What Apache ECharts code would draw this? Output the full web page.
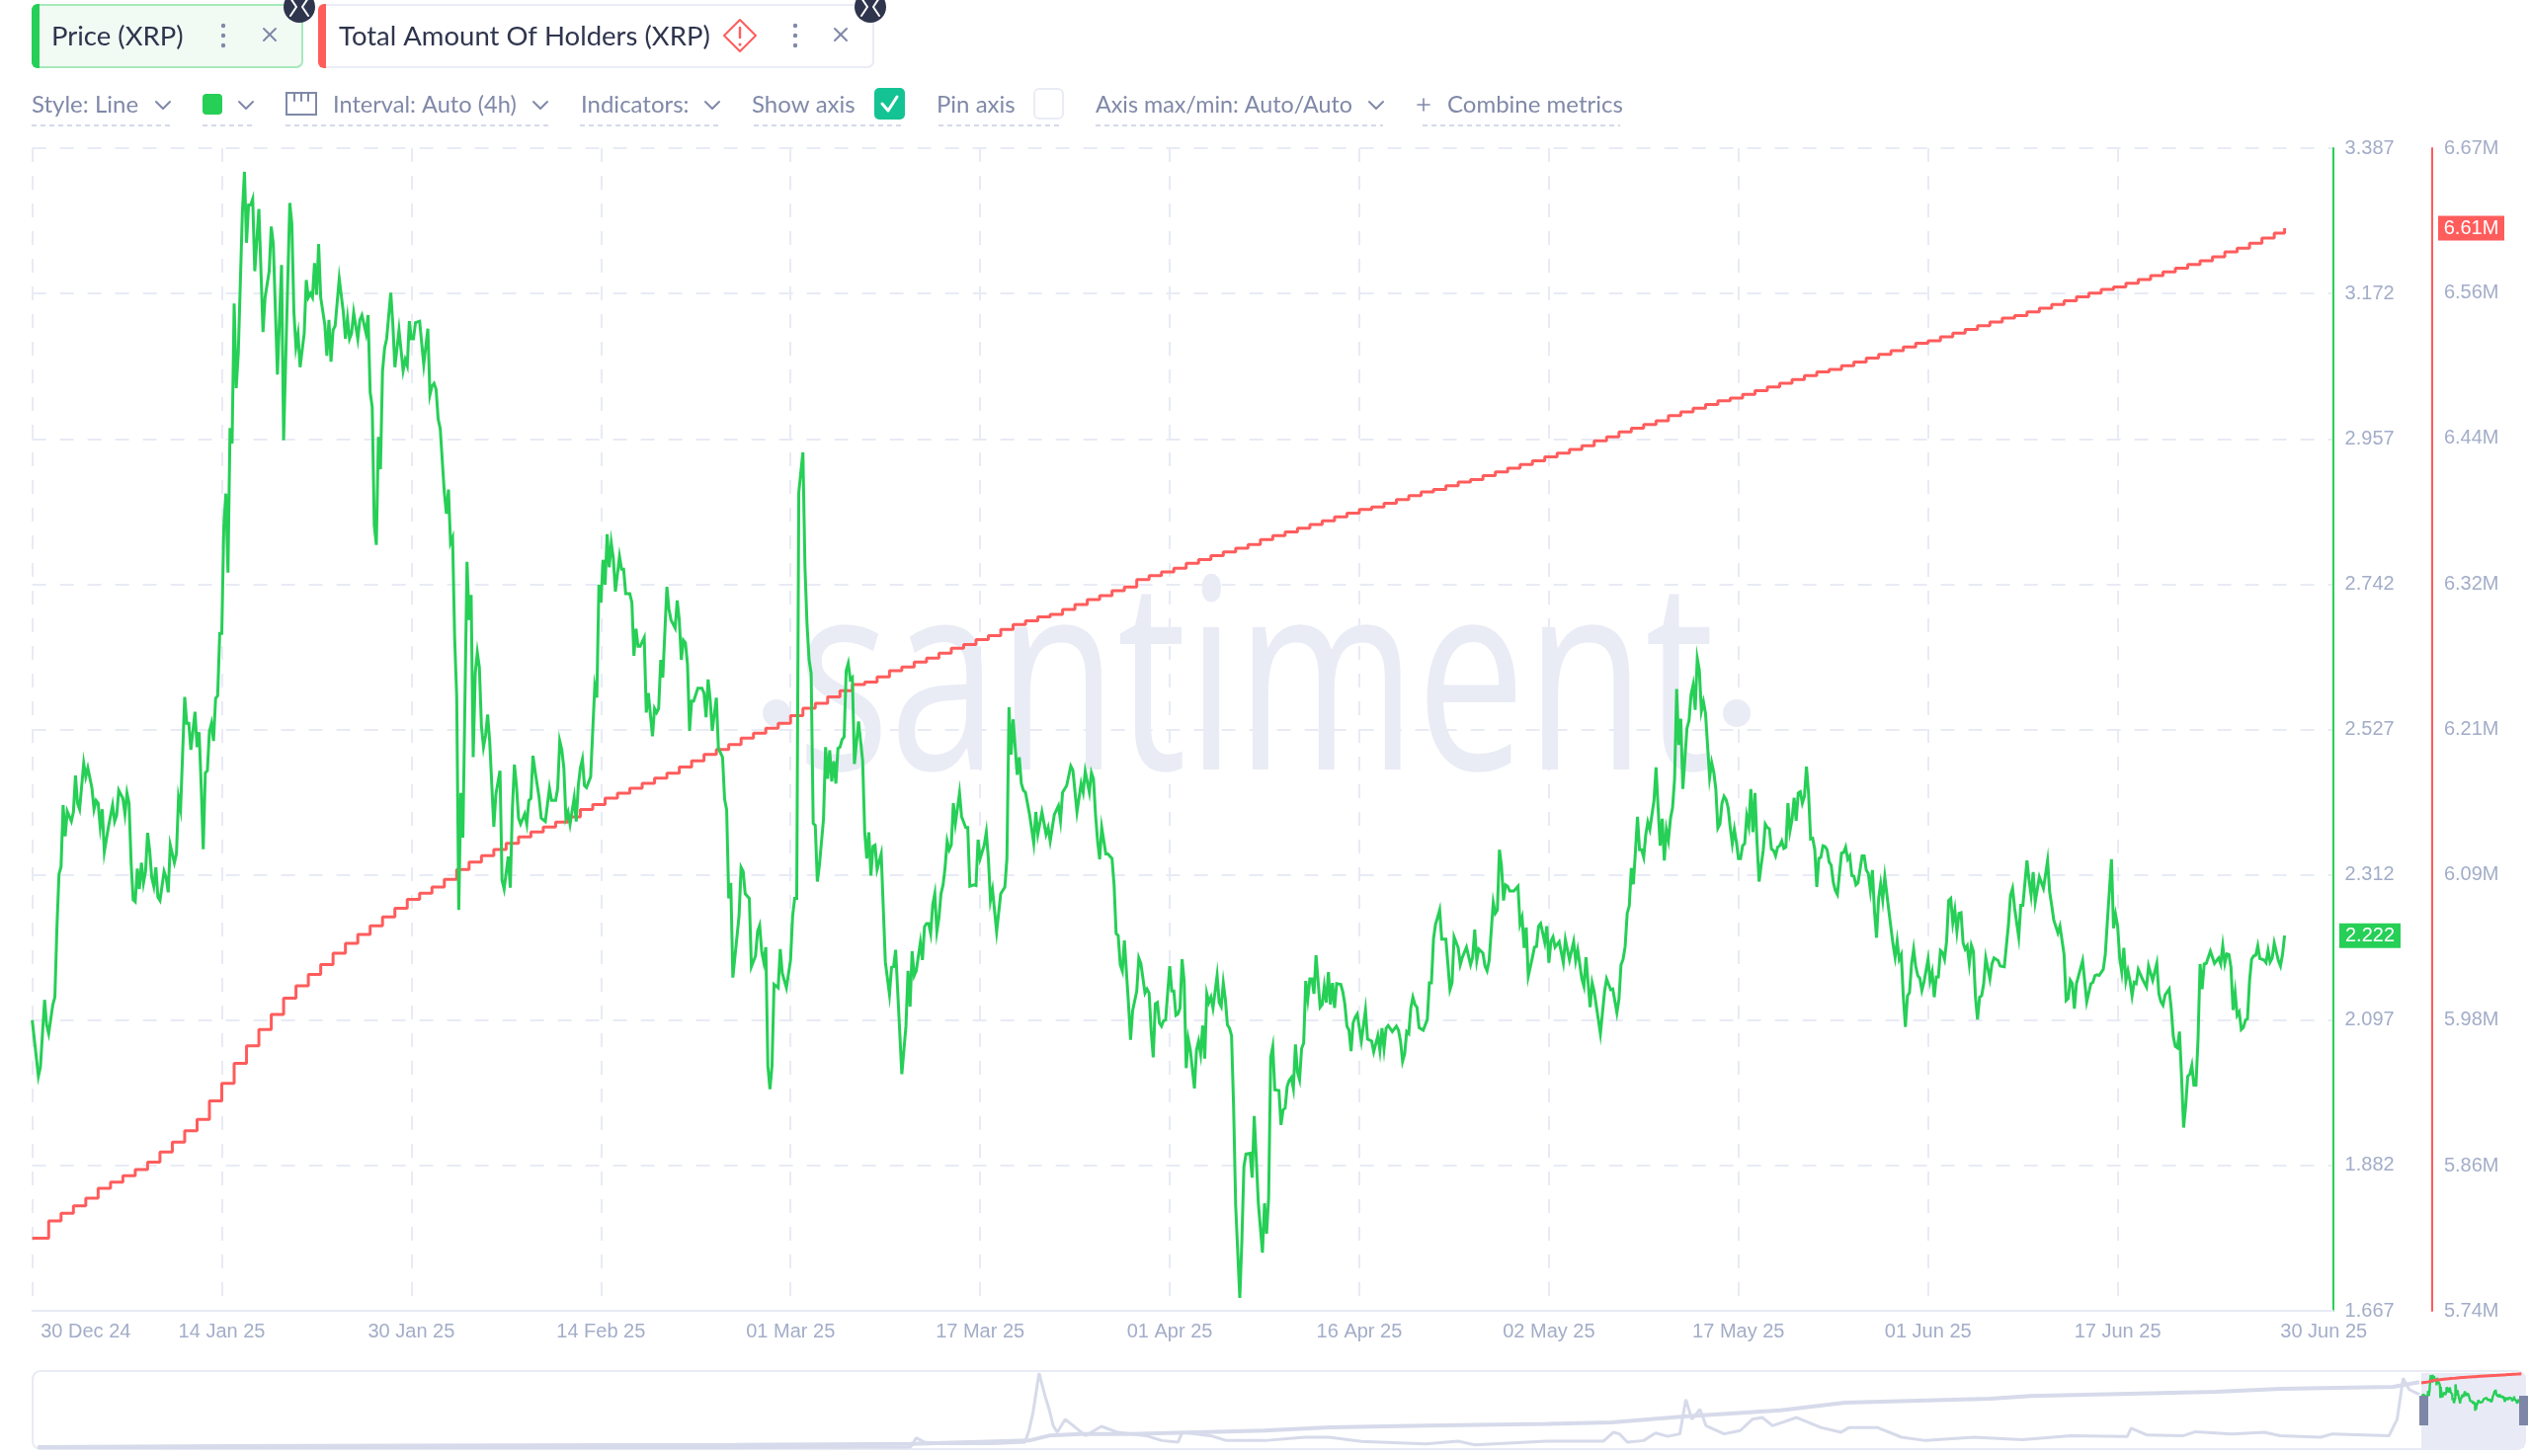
<!DOCTYPE html>
<html><head><meta charset="utf-8"><title>XRP price and holders</title>
<style>html,body{margin:0;padding:0;background:#fff}#c{width:2560px;height:1474px}</style>
<script src="https://cdn.jsdelivr.net/npm/echarts@6/dist/echarts.min.js"></script></head>
<body><div id="c"></div>
<script>
// x unit: 4-hour steps counted from the start of the window
const tickSteps=[0,92,184,276,368,460,552,644,736,828,920,1012];
const dateLabels=["30 Dec 24","14 Jan 25","30 Jan 25","14 Feb 25","01 Mar 25","17 Mar 25","01 Apr 25","16 Apr 25","02 May 25","17 May 25","01 Jun 25","17 Jun 25","30 Jun 25"];
const labelSteps=[26,92,184,276,368,460,552,644,736,828,920,1012,1112];
const priceTicks=[1.667,1.882,2.097,2.312,2.527,2.742,2.957,3.172,3.387];
const holderTicks=[5.74,5.856,5.973,6.089,6.205,6.321,6.438,6.554,6.67];
const holderTickLabels=["5.74M","5.86M","5.98M","6.09M","6.21M","6.32M","6.44M","6.56M","6.67M"];
const priceSeries=[[0,2.097],[2,2.042],[3,2.014],[4,2.028],[6,2.127],[7,2.090],[8,2.077],[10,2.120],[11,2.131],[12,2.234],[13,2.313],[14,2.324],[15,2.415],[16,2.369],[17,2.406],[19,2.391],[20,2.405],[21,2.459],[22,2.418],[23,2.409],[25,2.477],[26,2.457],[27,2.470],[29,2.440],[30,2.409],[31,2.422],[32,2.418],[33,2.383],[34,2.409],[35,2.346],[37,2.383],[39,2.415],[40,2.391],[41,2.400],[42,2.437],[44,2.425],[45,2.402],[46,2.433],[47,2.418],[48,2.330],[49,2.275],[50,2.272],[51,2.321],[52,2.291],[53,2.330],[54,2.300],[55,2.317],[56,2.374],[57,2.348],[58,2.308],[59,2.295],[60,2.323],[61,2.279],[62,2.274],[64,2.317],[65,2.308],[66,2.286],[67,2.356],[69,2.330],[70,2.343],[71,2.426],[72,2.409],[74,2.575],[75,2.536],[76,2.536],[77,2.497],[79,2.553],[80,2.501],[81,2.523],[82,2.444],[83,2.350],[84,2.463],[85,2.466],[86,2.524],[87,2.536],[88,2.510],[89,2.573],[90,2.577],[91,2.669],[92,2.669],[93,2.829],[94,2.876],[95,2.759],[96,2.973],[97,2.950],[98,3.157],[99,3.032],[100,3.083],[102,3.293],[103,3.352],[104,3.247],[105,3.303],[106,3.303],[107,3.312],[108,3.205],[110,3.297],[112,3.115],[113,3.166],[115,3.205],[116,3.271],[117,3.245],[119,3.052],[121,3.214],[122,2.955],[125,3.306],[126,3.275],[127,3.144],[128,3.093],[129,3.112],[130,3.063],[132,3.113],[133,3.192],[134,3.166],[135,3.172],[136,3.166],[137,3.217],[138,3.170],[139,3.245],[140,3.166],[142,3.126],[143,3.080],[144,3.133],[145,3.071],[146,3.118],[147,3.124],[149,3.194],[151,3.144],[152,3.105],[153,3.135],[154,3.105],[155,3.113],[156,3.144],[158,3.105],[159,3.133],[160,3.140],[162,3.113],[163,3.140],[164,3.026],[165,3.004],[166,2.829],[167,2.800],[168,2.960],[169,2.912],[170,3.057],[171,3.091],[172,3.105],[174,3.173],[175,3.127],[176,3.063],[178,3.118],[180,3.058],[181,3.074],[182,3.065],[183,3.131],[184,3.105],[185,3.105],[186,3.129],[188,3.131],[190,3.067],[192,3.120],[193,3.022],[194,3.035],[195,3.039],[196,3.030],[197,2.986],[198,2.972],[200,2.877],[201,2.846],[202,2.882],[203,2.803],[204,2.811],[205,2.663],[206,2.575],[207,2.260],[208,2.433],[209,2.367],[211,2.775],[212,2.689],[213,2.726],[214,2.486],[215,2.610],[216,2.641],[217,2.619],[218,2.532],[219,2.501],[220,2.518],[221,2.549],[222,2.510],[224,2.383],[225,2.431],[227,2.466],[228,2.304],[229,2.291],[231,2.339],[232,2.293],[233,2.409],[234,2.475],[235,2.444],[236,2.396],[237,2.387],[239,2.402],[240,2.387],[241,2.422],[242,2.425],[243,2.488],[244,2.466],[246,2.426],[247,2.396],[249,2.391],[251,2.440],[252,2.422],[254,2.422],[255,2.440],[256,2.510],[257,2.497],[258,2.470],[259,2.396],[260,2.405],[261,2.387],[263,2.426],[264,2.391],[265,2.444],[266,2.470],[267,2.483],[268,2.444],[269,2.441],[271,2.457],
[272,2.525],[273,2.591],[274,2.574],[275,2.741],[276,2.715],[277,2.778],[278,2.741],[279,2.816],[280,2.767],[281,2.803],[282,2.780],[283,2.731],[285,2.783],[286,2.764],[287,2.764],[288,2.728],[290,2.728],[291,2.715],[292,2.636],[293,2.676],[294,2.650],[295,2.650],[297,2.663],[298,2.552],[299,2.581],[301,2.517],[302,2.558],[303,2.552],[304,2.558],[305,2.630],[306,2.604],[308,2.738],[309,2.705],[310,2.689],[312,2.677],[313,2.718],[314,2.689],[315,2.630],[316,2.659],[317,2.655],[318,2.623],[319,2.525],[320,2.569],[321,2.569],[323,2.588],[325,2.588],[326,2.581],[327,2.545],[328,2.601],[329,2.571],[330,2.525],[332,2.574],[333,2.499],[335,2.486],[336,2.424],[337,2.408],[338,2.277],[339,2.300],[340,2.160],[343,2.251],[344,2.323],[345,2.317],[346,2.284],[348,2.277],[349,2.176],[351,2.192],[352,2.228],[353,2.237],[354,2.199],[355,2.183],[356,2.205],[357,2.029],[358,1.995],[359,2.029],[360,2.150],[362,2.145],[363,2.202],[364,2.166],[366,2.145],[368,2.186],[369,2.251],[370,2.277],[371,2.277],[372,2.878],[374,2.937],[375,2.767],[376,2.682],[377,2.630],[378,2.610],[379,2.388],[380,2.385],[381,2.302],[382,2.326],[384,2.395],[385,2.501],[386,2.454],[387,2.496],[388,2.450],[389,2.480],[390,2.447],[391,2.499],[392,2.501],[393,2.512],[394,2.516],[395,2.614],[396,2.625],[397,2.601],[398,2.604],[399,2.476],[401,2.539],[403,2.480],[404,2.375],[405,2.336],[406,2.375],[407,2.311],[408,2.354],[409,2.356],[410,2.320],[412,2.343],[414,2.183],[416,2.135],[417,2.175],[418,2.176],[419,2.201],[422,2.017],[424,2.088],[425,2.170],[426,2.117],[427,2.199],[428,2.163],[429,2.170],[431,2.212],[432,2.186],[433,2.235],[434,2.240],[435,2.240],[436,2.225],[437,2.268],[438,2.284],[439,2.228],[440,2.248],[441,2.284],[442,2.297],[443,2.323],[444,2.362],[445,2.349],[446,2.356],[447,2.418],[448,2.388],[450,2.433],[451,2.398],[453,2.382],[454,2.382],[455,2.295],[457,2.297],[458,2.296],[459,2.364],[460,2.336],[462,2.356],[463,2.375],[464,2.336],[465,2.274],[466,2.290],[468,2.228],[470,2.284],[472,2.294],[473,2.336],[474,2.560],[475,2.490],[476,2.542],[478,2.460],[479,2.486],[480,2.447],[481,2.437],[482,2.434],[484,2.401],[486,2.359],[487,2.405],[488,2.372],[490,2.405],[492,2.372],[493,2.382],[494,2.362],[496,2.401],[498,2.414],[499,2.392],[500,2.434],[502,2.444],[504,2.473],[505,2.467],[507,2.405],[509,2.447],[510,2.434],[511,2.465],[513,2.434],[514,2.463],[515,2.454],[516,2.401],[517,2.362],[518,2.335],[519,2.382],[521,2.343],[522,2.343],[524,2.336],[525,2.297],[526,2.225],[527,2.222],[528,2.179],[529,2.170],[530,2.215],[532,2.121],[533,2.068],[534,2.111],[536,2.140],[537,2.189],[538,2.181],[540,2.137],[541,2.143],[542,2.137],[543,2.081],[544,2.042],[545,2.121],
[546,2.123],[547,2.093],[548,2.088],[549,2.096],[550,2.097],[552,2.177],[553,2.140],[554,2.140],[555,2.104],[556,2.106],[557,2.115],[558,2.187],[559,2.155],[560,2.026],[561,2.069],[562,2.053],[564,1.996],[565,2.053],[566,2.066],[567,2.047],[568,2.089],[569,2.040],[570,2.136],[571,2.123],[572,2.131],[573,2.115],[575,2.163],[576,2.123],[577,2.117],[578,2.152],[579,2.128],[580,2.090],[581,2.085],[582,2.074],[583,1.969],[584,1.823],[586,1.686],[587,1.769],[588,1.880],[589,1.899],[591,1.900],[592,1.864],[593,1.955],[594,1.893],[595,1.826],[597,1.753],[598,1.826],[599,1.781],[600,1.834],[601,2.042],[602,2.058],[603,1.994],[605,1.993],[606,1.942],[607,1.964],[608,1.967],[609,1.999],[610,2.008],[611,2.012],[612,1.996],[613,2.061],[614,2.020],[615,2.009],[616,2.055],[617,2.063],[618,2.155],[619,2.128],[620,2.158],[621,2.158],[622,2.136],[623,2.193],[625,2.116],[626,2.120],[627,2.147],[628,2.123],[629,2.168],[630,2.120],[631,2.152],[632,2.115],[633,2.151],[635,2.150],[636,2.139],[637,2.120],[638,2.088],[639,2.082],[640,2.051],[641,2.093],[642,2.101],[643,2.106],[645,2.066],[647,2.112],[648,2.069],[650,2.066],[651,2.050],[653,2.074],[654,2.052],[655,2.085],[656,2.055],[657,2.085],[658,2.089],[660,2.080],[662,2.088],[663,2.082],[664,2.066],[665,2.036],[666,2.047],[667,2.080],[668,2.077],[669,2.115],[670,2.131],[671,2.120],[672,2.116],[673,2.086],[675,2.082],[677,2.098],[678,2.152],[679,2.152],[680,2.217],[681,2.239],[682,2.249],[683,2.260],[684,2.217],[686,2.217],[688,2.142],[689,2.152],[690,2.220],[692,2.204],[693,2.179],[694,2.190],[696,2.205],[698,2.179],[699,2.190],[700,2.231],[701,2.185],[702,2.202],[704,2.196],[705,2.177],[706,2.170],[707,2.185],[709,2.271],[710,2.255],[711,2.260],[712,2.349],[713,2.325],[714,2.274],[715,2.297],[716,2.295],[717,2.288],[719,2.288],[721,2.295],[722,2.239],[723,2.249],[724,2.204],[725,2.234],[726,2.162],[728,2.190],[729,2.205],[730,2.206],[731,2.236],[732,2.240],[734,2.212],[735,2.236],[736,2.182],[737,2.214],[738,2.220],[739,2.205],[741,2.213],[743,2.182],[744,2.216],[746,2.186],[748,2.213],[749,2.185],[750,2.201],[752,2.158],[753,2.147],[754,2.190],[756,2.116],[757,2.152],[758,2.139],[761,2.077],[763,2.139],[764,2.158],[766,2.142],[767,2.143],[769,2.108],[770,2.128],[771,2.179],[772,2.187],[773,2.206],[774,2.255],[775,2.266],[776,2.322],[777,2.298],[778,2.347],[779,2.398],[780,2.349],[781,2.349],[782,2.338],[783,2.371],[784,2.390],[785,2.379],[787,2.422],[788,2.471],[789,2.411],[790,2.355],[791,2.395],[792,2.333],[793,2.379],[794,2.363],[795,2.395],[796,2.411],[797,2.454],
[798,2.587],[799,2.504],[800,2.543],[801,2.439],[803,2.529],[804,2.540],[805,2.579],[806,2.593],[807,2.556],[808,2.632],[809,2.615],[810,2.554],[811,2.568],[812,2.551],[814,2.456],[815,2.478],[816,2.464],[817,2.439],[818,2.381],[819,2.387],[820,2.418],[821,2.428],[822,2.423],[823,2.411],[824,2.382],[825,2.358],[826,2.379],[827,2.360],[828,2.336],[829,2.336],[830,2.355],[831,2.358],[832,2.399],[833,2.384],[834,2.439],[835,2.375],[836,2.433],[837,2.360],[838,2.302],[839,2.326],[840,2.348],[841,2.387],[842,2.382],[843,2.380],[844,2.350],[845,2.348],[846,2.340],[847,2.353],[848,2.355],[849,2.362],[850,2.351],[851,2.353],[852,2.418],[853,2.377],[854,2.394],[855,2.426],[856,2.392],[857,2.433],[858,2.435],[859,2.418],[860,2.428],[861,2.472],[862,2.433],[863,2.365],[864,2.366],[865,2.350],[866,2.294],[867,2.336],[868,2.338],[869,2.355],[870,2.354],[871,2.349],[872,2.331],[873,2.326],[874,2.301],[875,2.289],[876,2.283],[878,2.344],[879,2.345],[880,2.353],[881,2.335],[882,2.340],[883,2.311],[884,2.310],[885,2.297],[886,2.300],[888,2.340],[889,2.340],[890,2.319],[891,2.314],[892,2.289],[893,2.319],[894,2.258],[895,2.219],[896,2.277],[897,2.299],[898,2.275],[899,2.309],[901,2.258],[903,2.209],[904,2.190],[905,2.214],[906,2.187],[907,2.194],[908,2.131],[909,2.087],[910,2.133],[911,2.138],[912,2.180],[913,2.202],[914,2.177],[915,2.163],[916,2.159],[917,2.141],[918,2.153],[920,2.187],[921,2.155],[922,2.168],[923,2.131],[924,2.161],[925,2.161],[926,2.200],[927,2.197],[928,2.187],[929,2.214],[930,2.274],[931,2.277],[932,2.241],[933,2.260],[934,2.228],[935,2.255],[936,2.256],[937,2.211],[938,2.202],[939,2.207],[940,2.180],[941,2.208],[942,2.199],[943,2.131],[944,2.098],[945,2.131],[946,2.133],[947,2.151],[948,2.189],[950,2.158],[951,2.180],[952,2.189],[954,2.185],[955,2.177],[957,2.176],[959,2.238],[960,2.282],[961,2.292],[962,2.263],[963,2.241],[964,2.220],[965,2.267],[966,2.267],[968,2.333],[969,2.304],[970,2.282],[971,2.316],[972,2.272],[974,2.309],[976,2.292],[978,2.333],[979,2.287],[980,2.267],[981,2.245],[983,2.226],[984,2.236],[986,2.194],[987,2.126],[988,2.129],[989,2.156],[990,2.151],[991,2.114],[992,2.151],[995,2.185],[997,2.124],[999,2.151],[1000,2.153],[1001,2.163],[1002,2.164],[1003,2.163],[1005,2.172],[1006,2.194],[1007,2.243],[1009,2.335],[1010,2.233],[1011,2.253],[1012,2.236],[1013,2.189],[1014,2.168],[1015,2.204],[1016,2.155],[1017,2.170],[1018,2.155],[1019,2.133],[1020,2.153],[1021,2.151],[1022,2.172],[1024,2.158],[1026,2.146],[1027,2.177],[1029,2.156],[1031,2.181],[1032,2.136],[1033,2.124],[1034,2.119],[1035,2.134],[1037,2.143],[1038,2.114],[1039,2.073],[1040,2.058],[1041,2.056],[1042,2.080],[1043,2.014],[1044,1.938],[1045,1.970],[1046,2.014],[1047,2.017],[1048,2.030],[1049,2.001],[1050,2.001],[1051,2.068],[1052,2.180],[1053,2.143],[1054,2.180],[1055,2.181],[1057,2.199],[1059,2.181],[1061,2.189],[1062,2.180],[1063,2.207],[1064,2.181],[1065,2.195],[1066,2.194],[1067,2.175],[1068,2.112],[1069,2.138],[1070,2.104],[1071,2.109],[1072,2.083],[1073,2.086],[1074,2.097],[1075,2.099],[1076,2.155],[1077,2.187],[1078,2.192],[1079,2.193],[1080,2.207],[1081,2.188],[1083,2.186],[1084,2.182],[1085,2.200],[1086,2.183],[1087,2.189],[1088,2.211],[1090,2.185],[1091,2.177],[1092,2.194],[1093,2.222]];
// holders in millions, one reading per day
const holderSeries=[[0,5.798],[8,5.812],[14,5.818],[20,5.824],[26,5.830],[32,5.838],[38,5.843],[44,5.848],[50,5.853],[56,5.859],[62,5.867],[68,5.875],[74,5.884],[80,5.893],[86,5.908],[92,5.922],[98,5.938],[104,5.952],[110,5.965],[116,5.977],[122,5.990],[128,6.000],[134,6.009],[140,6.017],[146,6.026],[152,6.034],[158,6.041],[164,6.048],[170,6.055],[176,6.062],[182,6.069],[188,6.074],[194,6.079],[200,6.085],[206,6.093],[212,6.099],[218,6.104],[224,6.109],[230,6.114],[236,6.119],[242,6.123],[248,6.127],[254,6.131],[260,6.135],[266,6.141],[272,6.145],[278,6.150],[284,6.154],[290,6.158],[296,6.162],[302,6.166],[308,6.170],[314,6.175],[320,6.180],[326,6.185],[332,6.189],[338,6.193],[344,6.198],[350,6.202],[356,6.206],[362,6.210],[368,6.216],[374,6.222],[380,6.226],[386,6.231],[392,6.236],[398,6.241],[404,6.243],[410,6.247],[416,6.252],[422,6.255],[428,6.259],[434,6.262],[440,6.266],[446,6.270],[452,6.273],[458,6.277],[464,6.280],[470,6.285],[476,6.289],[482,6.292],[488,6.295],[494,6.297],[500,6.301],[506,6.305],[512,6.309],[518,6.312],[524,6.316],[530,6.319],[536,6.325],[542,6.328],[548,6.331],[554,6.334],[560,6.338],[566,6.341],[572,6.344],[578,6.347],[584,6.350],[590,6.353],[596,6.357],[602,6.360],[608,6.363],[614,6.366],[620,6.369],[626,6.372],[632,6.375],[638,6.378],[644,6.381],[650,6.383],[656,6.386],[662,6.389],[668,6.392],[674,6.395],[680,6.397],[686,6.400],[692,6.403],[698,6.405],[704,6.408],[710,6.411],[716,6.414],[722,6.417],[728,6.420],[734,6.423],[740,6.426],[746,6.429],[752,6.432],[758,6.436],[764,6.439],[770,6.443],[776,6.446],[782,6.449],[788,6.452],[794,6.456],[800,6.459],[806,6.462],[812,6.465],[818,6.468],[824,6.470],[830,6.473],[836,6.476],[842,6.479],[848,6.482],[854,6.485],[860,6.488],[866,6.491],[872,6.493],[878,6.496],[884,6.499],[890,6.502],[896,6.505],[902,6.508],[908,6.511],[914,6.514],[920,6.516],[926,6.519],[932,6.522],[938,6.525],[944,6.528],[950,6.531],[956,6.534],[962,6.536],[968,6.539],[974,6.542],[980,6.545],[986,6.548],[992,6.551],[998,6.554],[1004,6.557],[1010,6.559],[1016,6.562],[1022,6.565],[1028,6.568],[1034,6.571],[1040,6.574],[1046,6.577],[1052,6.580],[1058,6.583],[1064,6.587],[1070,6.590],[1076,6.594],[1082,6.598],[1088,6.602],[1093,6.606]];
// overview strip, whole history: [year, value]
const historyPrice=[[2013.16,0.01],[2014.12,0.02],[2014.97,0.02],[2016.62,0.02],[2017.49,0.05],[2017.50,0.15],[2017.52,0.46],[2017.56,0.27],[2017.65,0.20],[2017.90,0.20],[2018.06,0.27],[2018.08,0.79],[2018.10,1.60],[2018.13,3.38],[2018.16,2.34],[2018.18,1.75],[2018.20,1.01],[2018.22,0.71],[2018.26,1.30],[2018.30,1.01],[2018.36,0.56],[2018.44,0.98],[2018.52,0.71],[2018.66,0.56],[2018.74,0.34],[2018.82,0.27],[2018.84,0.71],[2018.98,0.56],[2019.06,0.34],[2019.25,0.34],[2019.45,0.49],[2019.57,0.49],[2019.73,0.30],[2020.05,0.19],[2020.21,0.31],[2020.29,0.15],[2020.65,0.31],[2020.93,0.31],[2020.98,0.71],[2021.01,0.64],[2021.05,0.27],[2021.13,0.34],[2021.19,0.68],[2021.25,0.53],[2021.31,0.64],[2021.34,2.19],[2021.37,1.30],[2021.41,1.75],[2021.44,1.01],[2021.53,0.64],[2021.61,0.79],[2021.67,1.30],[2021.72,1.38],[2021.77,1.01],[2021.89,1.38],[2022.01,0.93],[2022.11,0.71],[2022.15,0.93],[2022.29,0.93],[2022.41,0.49],[2022.53,0.34],[2022.77,0.49],[2023.01,0.38],[2023.25,0.56],[2023.53,0.52],[2023.55,0.90],[2023.63,0.59],[2023.81,0.56],[2023.87,0.74],[2024.05,0.64],[2024.21,0.71],[2024.29,0.56],[2024.49,0.49],[2024.55,0.64],[2024.83,0.56],[2024.87,1.30],[2024.90,3.16],[2024.93,2.64],[2024.98,2.42]];
const historyHolders=[[2013.16,0.09],[2014.12,0.18],[2014.97,0.23],[2016.62,0.29],[2017.49,0.38],[2018.08,0.67],[2018.18,1.11],[2018.34,1.26],[2018.58,1.26],[2019.25,1.55],[2019.57,1.84],[2020.05,1.99],[2020.65,2.14],[2020.97,2.28],[2021.33,2.81],[2021.81,3.36],[2022.13,4.04],[2022.85,4.39],[2023.05,4.62],[2023.97,5.00],[2024.29,5.27],[2024.85,5.44],[2024.98,5.85]];
const windowStartYear=2024.99, stepsPerYear=2190;
const GREEN='#26cf56',RED='#ff5c5c',AXT='#a3adc8',GRID='#e8ebf5',UI='#8089a8',DARK='#2f354d',MARK='#e9ecf5';
const chart=echarts.init(document.getElementById('c'),null,{renderer:'canvas',width:2560,height:1474,devicePixelRatio:1});
const tick={fontFamily:'Liberation Sans',fontSize:20,color:AXT};
const toMini=a=>a.map(p=>[windowStartYear+p[0]/stepsPerYear,p[1]]);
chart.setOption({
 animation:false,backgroundColor:'#fff',
 grid:[{left:32.6,top:150,width:2329,height:1177},{left:32,top:1390,width:2523,height:76}],
 xAxis:[
  {type:'value',gridIndex:0,min:0,max:1116.5,position:'bottom',
   axisLine:{show:true,onZero:false,lineStyle:{color:GRID,width:2}},
   axisTick:{show:false,customValues:tickSteps},
   splitLine:{show:true,lineStyle:{color:GRID,width:2,type:[14,14]}},
   axisLabel:{...tick,margin:11,customValues:labelSteps,formatter:v=>dateLabels[labelSteps.indexOf(v)]||'',showMinLabel:true,showMaxLabel:true,hideOverlap:false}},
  {type:'value',gridIndex:1,min:2013.13,max:2025.5,show:false}],
 yAxis:[
  {type:'value',gridIndex:0,position:'right',min:1.667,max:3.387,
   axisLine:{show:true,onZero:false,lineStyle:{color:GREEN,width:2}},axisTick:{show:false,customValues:priceTicks},
   splitLine:{show:true,lineStyle:{color:GRID,width:2,type:[14,14]}},
   axisLabel:{...tick,margin:12,customValues:priceTicks,formatter:v=>v.toFixed(3)}},
  {type:'value',gridIndex:0,position:'right',offset:100.3,min:5.74,max:6.67,
   axisLine:{show:true,onZero:false,lineStyle:{color:RED,width:2}},axisTick:{show:false,customValues:holderTicks},splitLine:{show:false},
   axisLabel:{...tick,margin:12,customValues:holderTicks,formatter:v=>holderTickLabels[holderTicks.indexOf(v)]||''}},
  {type:'value',gridIndex:1,min:0,max:3.387,show:false},
  {type:'value',gridIndex:1,min:0,max:6.67,show:false}],
 series:[
  {name:'Total Amount Of Holders (XRP)',type:'line',xAxisIndex:0,yAxisIndex:1,data:holderSeries,step:'end',showSymbol:false,z:3,lineStyle:{color:RED,width:3}},
  {name:'Price (XRP)',type:'line',xAxisIndex:0,yAxisIndex:0,data:priceSeries,showSymbol:false,z:4,lineStyle:{color:GREEN,width:3,join:'miter'}},
  {type:'line',xAxisIndex:1,yAxisIndex:2,data:historyPrice,showSymbol:false,z:2,lineStyle:{color:'#d6daea',width:3},
   markArea:{silent:true,itemStyle:{color:'#e8ebf5'},data:[[{xAxis:windowStartYear},{xAxis:2025.5}]]}},
  {type:'line',xAxisIndex:1,yAxisIndex:3,data:historyHolders,showSymbol:false,z:2,lineStyle:{color:'#d6daea',width:4}},
  {type:'line',xAxisIndex:1,yAxisIndex:2,data:toMini(priceSeries),showSymbol:false,z:3,lineStyle:{color:GREEN,width:2.4}},
  {type:'line',xAxisIndex:1,yAxisIndex:3,data:toMini(holderSeries),showSymbol:false,z:3,lineStyle:{color:RED,width:3}}
 ]
});
// chrome
const g=[];
const txt=(x,y,s,o={})=>g.push({type:'text',z:o.z||10,style:{x,y,text:s,font:(o.w||'400')+' '+(o.size||24)+'px '+(o.fam||'Lato'),fill:o.fill||UI,align:o.align||'left',verticalAlign:'middle'}});
const rect=(x,y,w,h,o={})=>g.push({type:'rect',z:o.z||9,shape:{x,y,width:w,height:h,r:o.r||0},style:{fill:o.fill||'none',stroke:o.stroke||'none',lineWidth:o.lw||0}});
const poly=(pts,c,lw=2,z=11)=>g.push({type:'polyline',z,shape:{points:pts},style:{stroke:c,lineWidth:lw,fill:'none',lineCap:'round',lineJoin:'round'}});
const dot=(x,y,r,c,z=11)=>g.push({type:'circle',z,shape:{cx:x,cy:y,r},style:{fill:c}});
const chev=x=>poly([[x-7,103],[x,110],[x+7,103]],UI,2);
const under=(a,b)=>g.push({type:'line',z:9,shape:{x1:a,y1:127,x2:b,y2:127},style:{stroke:'#d5d9ea',lineWidth:2,lineDash:[5,4]}});
const closeBtn=(x,y)=>{dot(x,y,16,DARK,12);poly([[x-9,y-9],[x-3,y],[x-9,y+9]],'#fff',2,13);poly([[x+9,y-9],[x+3,y],[x+9,y+9]],'#fff',2,13);};
const cross=(x,y)=>{poly([[x-6,y-6],[x+6,y+6]],UI,2);poly([[x-6,y+6],[x+6,y-6]],UI,2);};
const vdots=x=>{dot(x,26,2.2,UI);dot(x,36,2.2,UI);dot(x,46,2.2,UI);};
// watermark
g.push({type:'text',z:0,x:1271,y:837,scaleX:0.805,scaleY:1.1,style:{x:0,y:0,text:'santiment',font:'400 245px "Open Sans"',fill:MARK,align:'center',verticalAlign:'bottom'}});
dot(786,722,14,MARK,0);dot(1758,722,14,MARK,0);
// metric chips
rect(33,5,273,63,{fill:'#f1fbf4',stroke:'#a6e9ba',lw:2,r:6});
rect(32,4,8,65,{fill:GREEN,r:[6,0,0,6]});
txt(52,37,'Price (XRP)',{fill:DARK,size:27.5});vdots(226);cross(273,35);
rect(323,5,561,63,{fill:'#fff',stroke:'#e9ecf5',lw:2,r:6});
rect(322,4,8,65,{fill:RED,r:[6,0,0,6]});
txt(343,37,'Total Amount Of Holders (XRP)',{fill:DARK,size:27.5});vdots(805);cross(851,35);
poly([[749,20],[765,36],[749,52],[733,36],[749,20]],RED,2);poly([[749,28],[749,38]],RED,2.4);dot(749,45,1.5,RED);
closeBtn(303,7);closeBtn(881,7);
// toolbar
txt(32,106,'Style: Line');chev(165);under(32,173);
rect(205,95,20,21,{fill:GREEN,r:4});chev(249);under(205,257);
rect(290,94,30,22,{stroke:UI,lw:2});poly([[298,94],[298,102]],UI,2);poly([[305,94],[305,102]],UI,2);poly([[312,94],[312,102]],UI,2);
txt(337,106,'Interval: Auto (4h)',{size:23.6});chev(547);under(289,555);
txt(588,106,'Indicators:');chev(721);under(587,729);
txt(761,106,'Show axis');rect(885,89,31,32,{fill:'#14c393',r:5});poly([[893,105],[899,112],[908,98]],'#fff',3);under(763,915);
txt(948,106,'Pin axis');rect(1047,90,29,30,{stroke:'#e9ecf5',lw:2,r:5});under(950,1073);
txt(1109,106,'Axis max/min: Auto/Auto',{size:23.3});chev(1393);under(1109,1400);
poly([[1441,100],[1441,112]],UI,1.6);poly([[1435,106],[1447,106]],UI,1.6);txt(1465,106,'Combine metrics');under(1440,1640);
// overview frame and handles
rect(33,1388,2523,79,{stroke:'#e8ebf5',lw:2,r:8,z:1});
rect(2449,1413,9,30,{fill:'#7d86a6',z:12});rect(2550,1413,9,30,{fill:'#7d86a6',z:12});
// last-value tags, placed from the axes
const lastP=priceSeries[priceSeries.length-1][1], lastH=holderSeries[holderSeries.length-1][1];
const yP=chart.convertToPixel({yAxisIndex:0},lastP), yH=chart.convertToPixel({yAxisIndex:1},lastH);
rect(2368,yP-12.5,62,25,{fill:GREEN,z:12});txt(2399,yP+.5,lastP.toFixed(3),{fam:'Liberation Sans',size:20,fill:'#fff',align:'center',z:13});
rect(2468,yH-12.5,67,25,{fill:RED,z:12});txt(2501.5,yH+.5,lastH.toFixed(2)+'M',{fam:'Liberation Sans',size:20,fill:'#fff',align:'center',z:13});
chart.setOption({graphic:{elements:g}});
</script></body></html>
